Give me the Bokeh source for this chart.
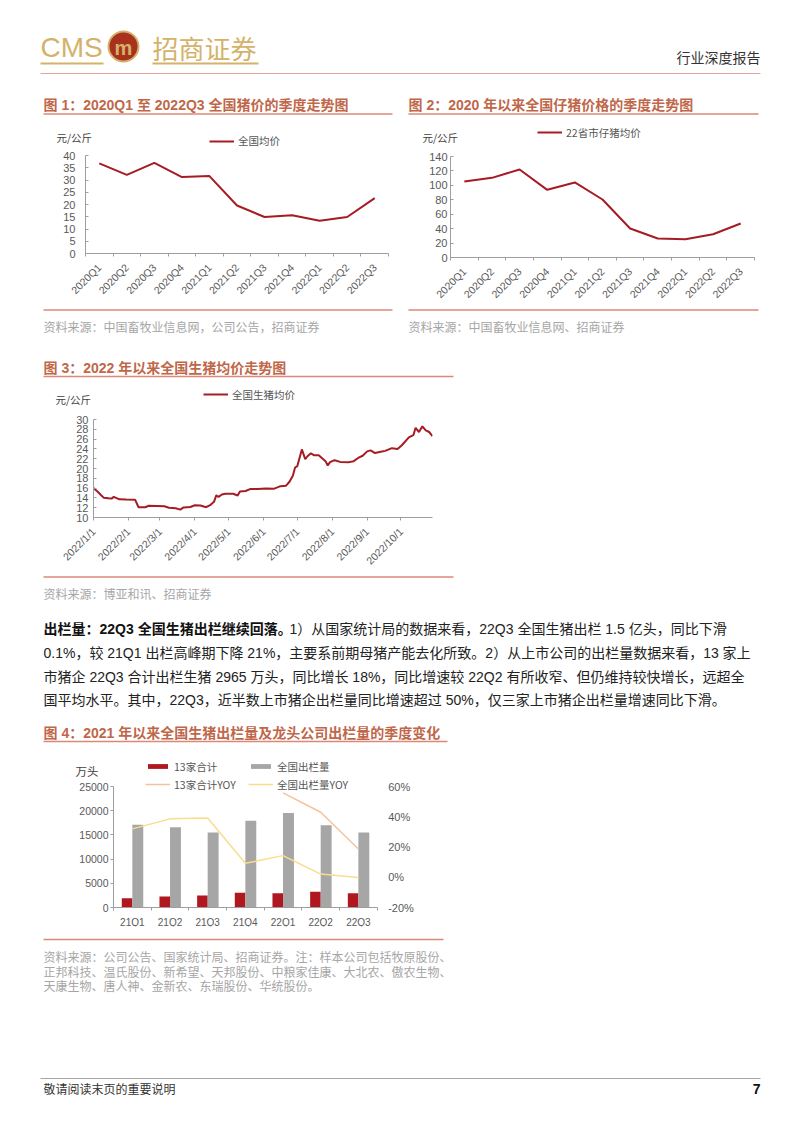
import math
import pandas as pd
from bokeh.plotting import figure
from bokeh.models import (Range1d, LinearAxis, FixedTicker, Legend, LegendItem, Label,
                          PrintfTickFormatter, ColumnDataSource)
from bokeh.transform import dodge
from bokeh.layouts import column, row
from bokeh.embed import file_html
from bokeh.resources import INLINE
from bokeh.core.properties import value

# ---------------- data ----------------
quarters_20_22 = ["2020Q1", "2020Q2", "2020Q3", "2020Q4", "2021Q1", "2021Q2",
                  "2021Q3", "2021Q4", "2022Q1", "2022Q2", "2022Q3"]
hog_price_q = [36.8, 32.1, 37.0, 31.2, 31.6, 19.6, 14.9, 15.6, 13.4, 14.9, 22.6]
piglet_price_q = [105.4, 110.4, 122.0, 93.8, 104.0, 80.4, 40.2, 26.3, 25.4, 32.3, 47.1]

hog_dates = ["2022-01-01", "2022-01-03", "2022-01-05", "2022-01-08", "2022-01-10", "2022-01-14",
             "2022-01-17", "2022-01-19", "2022-01-21", "2022-01-24", "2022-01-30", "2022-02-07",
             "2022-02-10", "2022-02-16", "2022-02-19", "2022-02-26", "2022-03-05", "2022-03-09",
             "2022-03-15", "2022-03-19", "2022-03-22", "2022-03-28", "2022-04-01", "2022-04-06",
             "2022-04-11", "2022-04-15", "2022-04-18", "2022-04-20", "2022-04-22", "2022-04-25",
             "2022-04-28", "2022-05-05", "2022-05-09", "2022-05-11", "2022-05-16", "2022-05-20",
             "2022-05-27", "2022-06-03", "2022-06-10", "2022-06-16", "2022-06-21", "2022-06-24",
             "2022-06-27", "2022-06-29", "2022-07-01", "2022-07-05", "2022-07-08", "2022-07-10",
             "2022-07-13", "2022-07-16", "2022-07-20", "2022-07-23", "2022-07-26", "2022-07-28",
             "2022-07-30", "2022-08-03", "2022-08-08", "2022-08-16", "2022-08-20", "2022-08-24",
             "2022-08-28", "2022-09-01", "2022-09-04", "2022-09-08", "2022-09-13", "2022-09-17",
             "2022-09-23", "2022-09-28", "2022-10-02", "2022-10-08", "2022-10-12", "2022-10-14",
             "2022-10-17", "2022-10-20", "2022-10-23", "2022-10-26", "2022-10-29"]
hog_price_d = [16.0, 15.6, 15.2, 14.5, 14.05, 13.95,
               13.85, 14.2, 14.0, 13.7, 13.65, 13.6,
               12.1, 12.1, 12.4, 12.35, 12.3, 12.0,
               11.9, 11.6, 12.05, 12.15, 12.5, 12.45,
               12.1, 12.6, 13.2, 14.5, 14.2, 14.7,
               14.85, 14.85, 14.5, 15.3, 15.4, 15.8,
               15.8, 15.9, 15.85, 16.4, 16.5, 17.3,
               18.5, 20.2, 20.5, 23.9, 21.9, 22.5,
               23.1, 22.7, 22.7, 22.1, 21.5, 20.6,
               21.3, 21.7, 21.35, 21.3, 21.5, 22.15,
               22.6, 23.5, 23.7, 23.15, 23.4, 23.6,
               24.15, 24.0, 24.8, 26.35, 26.8, 28.3,
               27.45, 28.6, 27.8, 27.45, 26.6]
month_ticks = ["2022-01-01", "2022-02-01", "2022-03-01", "2022-04-01", "2022-05-01",
               "2022-06-01", "2022-07-01", "2022-08-01", "2022-09-01", "2022-10-01"]
month_labels = ["2022/1/1", "2022/2/1", "2022/3/1", "2022/4/1", "2022/5/1",
                "2022/6/1", "2022/7/1", "2022/8/1", "2022/9/1", "2022/10/1"]

quarters_21_22 = ["21Q1", "21Q2", "21Q3", "21Q4", "22Q1", "22Q2", "22Q3"]
top13_output = [1900, 2250, 2500, 3050, 2950, 3250, 2965]
national_output = [17100, 16600, 15500, 17900, 19500, 17000, 15500]
top13_yoy = [float("nan"), float("nan"), float("nan"), float("nan"), 55.8, 43.0, 18.7]
national_yoy = [32.0, 38.6, 39.2, 9.2, 14.3, 2.1, -0.1]

# ---------------- style ----------------
W = 800
CJK = "Noto Sans CJK SC"
MIX = "'Liberation Sans', 'Noto Sans CJK SC'"
LATIN = "Liberation Sans"
RED_LINE = "#A51C24"
TITLE_C = "#C0674A"
RULE_C = "#DC8878"
GOLD = "#D4B26A"
TICK_C = "#595959"
LEG_C = "#555555"
SRC_C = "#A6A6A6"
AXIS_C = "#9E9E9E"
BAR_RED = "#B0171F"
BAR_GRAY = "#A6A6A6"
YOY_ORANGE = "#F6C29A"
YOY_YELLOW = "#F9DC8C"
NAN = float("nan")


def decor(top, h):
    p = figure(width=W, height=h, x_range=Range1d(0, W), y_range=Range1d(top + h, top),
               x_axis_location=None, y_axis_location=None, output_backend="svg",
               toolbar_location=None, min_border=0)
    p.grid.visible = False
    p.outline_line_color = None
    return p


def put_text(p, x, y, s, size, color, font=MIX, bold=False, align="left"):
    p.text(x=[x], y=[y], text=[s], text_font=value(font),
           text_font_size=f"{size}px", text_color=color,
           text_font_style="bold" if bold else "normal",
           text_align=align, text_baseline="middle")


def put_rule(p, x0, x1, y, color, w=1.0):
    p.line(x=[x0, x1], y=[y, y], line_color=color, line_width=w)


def legend_style(**kw):
    base = dict(border_line_color=None, background_fill_alpha=0, padding=0, margin=0,
                glyph_width=25, label_standoff=4, label_text_font=CJK,
                label_text_font_size="10.5px", label_text_color=LEG_C)
    base.update(kw)
    return base


def strip_legend(p, top, h, label, glyph_x, center_y, color):
    """legend of a chart drawn in a page strip (its sample renderer draws nothing)"""
    r = p.line(x=[NAN], y=[NAN], line_color=color, line_width=2)
    lh = 14
    vy = (top + h) - (center_y + lh / 2)
    p.add_layout(Legend(items=[LegendItem(label=label, renderers=[r])],
                        location=(glyph_x, vy),
                        **legend_style(glyph_height=lh, label_height=lh, spacing=0)))


def base_fig(width, height, xr, yr, borders, x_axis_type="linear"):
    l, r, t, b = borders
    p = figure(width=width, height=height, x_range=xr, y_range=yr, x_axis_type=x_axis_type,
               output_backend="svg", toolbar_location=None,
               min_border_left=l, min_border_right=r, min_border_top=t, min_border_bottom=b)
    p.grid.visible = False
    p.outline_line_color = None
    for ax in p.axis:
        ax.axis_line_color = AXIS_C
        ax.major_tick_line_color = AXIS_C
        ax.minor_tick_line_color = None
        ax.major_label_text_color = TICK_C
        ax.major_label_text_font = LATIN
        ax.major_label_text_font_size = "11px"
    return p


def quarter_axis(p, labels, standoff, orient):
    n = len(labels)
    ax = p.xaxis[0]
    ax.ticker = FixedTicker(ticks=list(range(n)), minor_ticks=[i - 0.5 for i in range(n + 1)])
    ax.major_label_overrides = {i: s for i, s in enumerate(labels)}
    ax.major_tick_out = 0
    ax.major_tick_in = 0
    ax.minor_tick_line_color = AXIS_C
    ax.minor_tick_out = 3
    ax.minor_tick_in = 0
    ax.major_label_standoff = standoff
    if orient:
        ax.major_label_orientation = math.pi / 4
        ax.major_label_text_font_size = "10.5px"


# ---------------- strip 1: header + titles 1/2 + legends 1/2 ----------------
T1, H1 = 0, 147
s1 = decor(T1, H1)
put_text(s1, 40, 47, "CMS", 28, GOLD, font="'Liberation Sans Narrow', 'Liberation Sans'")
s1.circle(x=[123], y=[46], radius=15, fill_color="#A8321E", line_color=GOLD, line_width=2)
put_text(s1, 123, 47, "m", 20, GOLD, font=LATIN, bold=True, align="center")
put_text(s1, 152, 47, "招商证券", 26, GOLD, font=CJK)
put_rule(s1, 40, 103, 63, GOLD, 2)
put_rule(s1, 152, 258, 63, GOLD, 2)
put_text(s1, 760, 56, "行业深度报告", 14, "#333333", font=CJK, align="right")
put_rule(s1, 40, 760, 73, "#E2A49C", 1)
put_text(s1, 43, 104, "图 1：2020Q1 至 2022Q3 全国猪价的季度走势图", 14, TITLE_C, bold=True)
put_rule(s1, 43, 392, 113.5, RULE_C, 1.5)
put_text(s1, 408, 104, "图 2：2020 年以来全国仔猪价格的季度走势图", 14, TITLE_C, bold=True)
put_rule(s1, 408, 758, 113.5, RULE_C, 1.5)
put_text(s1, 56, 137, "元/公斤", 10.5, "#404040", font=CJK)
put_text(s1, 422, 137, "元/公斤", 10.5, "#404040", font=CJK)
strip_legend(s1, T1, H1, "全国均价", 209, 141, RED_LINE)
strip_legend(s1, T1, H1, "22省市仔猪均价", 537, 132.5, RED_LINE)

# ---------------- strip 2: charts 1 and 2 ----------------
n1 = len(quarters_20_22)
idx1 = list(range(n1))
H2 = 160

p1 = base_fig(400, H2, Range1d(-0.5, n1 - 0.5), Range1d(0, 40), (85, 12, 8, 54))
p1.line(idx1, hog_price_q, line_color=RED_LINE, line_width=2)
quarter_axis(p1, quarters_20_22, 9, True)
p1.yaxis[0].ticker = FixedTicker(ticks=list(range(0, 41, 5)))
p1.yaxis[0].major_tick_in = 3
p1.yaxis[0].major_tick_out = 0
p1.yaxis[0].major_label_standoff = 10

p2 = base_fig(400, H2, Range1d(-0.5, n1 - 0.5), Range1d(0, 140), (50, 46, 9, 50))
p2.line(idx1, piglet_price_q, line_color=RED_LINE, line_width=2)
quarter_axis(p2, quarters_20_22, 9, True)
p2.yaxis[0].ticker = FixedTicker(ticks=list(range(0, 141, 20)))
p2.yaxis[0].major_tick_in = 3
p2.yaxis[0].major_tick_out = 0
p2.yaxis[0].major_label_standoff = 3

# ---------------- strip 3: sources 1/2 + title 3 + legend 3 ----------------
T3, H3 = 307, 104
s3 = decor(T3, H3)
put_rule(s3, 43, 392, 309.5, RULE_C, 1.5)
put_rule(s3, 408, 758, 309.5, RULE_C, 1.5)
put_text(s3, 43, 326, "资料来源：中国畜牧业信息网，公司公告，招商证券", 12, SRC_C, font=CJK)
put_text(s3, 408, 326, "资料来源：中国畜牧业信息网、招商证券", 12, SRC_C, font=CJK)
put_text(s3, 43, 367, "图 3：2022 年以来全国生猪均价走势图", 14, TITLE_C, bold=True)
put_rule(s3, 43, 453, 376, RULE_C, 1.5)
put_text(s3, 55, 399, "元/公斤", 10.5, "#404040", font=CJK)
strip_legend(s3, T3, H3, "全国生猪均价", 203, 394.5, RED_LINE)

# ---------------- strip 4: chart 3 ----------------
d3 = pd.to_datetime(hog_dates)
p3 = base_fig(W, 163, Range1d(pd.Timestamp("2022-01-01"), pd.Timestamp("2022-10-29")),
              Range1d(10, 30), (93, 368, 8, 55), x_axis_type="datetime")
p3.line(d3, hog_price_d, line_color=RED_LINE, line_width=2)
tick_ms = [int(pd.Timestamp(t).value // 10**6) for t in month_ticks]
ax3 = p3.xaxis[0]
ax3.ticker = FixedTicker(ticks=tick_ms)
ax3.major_label_overrides = {t: s for t, s in zip(tick_ms, month_labels)}
ax3.major_label_orientation = math.pi / 4
ax3.major_tick_out = 3
ax3.major_tick_in = 0
ax3.major_label_standoff = 9
ax3.major_label_text_font_size = "10.5px"
p3.yaxis[0].ticker = FixedTicker(ticks=list(range(10, 31, 2)))
p3.yaxis[0].major_tick_in = 3
p3.yaxis[0].major_tick_out = 0
p3.yaxis[0].major_label_standoff = 5

# ---------------- strip 5: source 3 + paragraph + title 4 ----------------
T5, H5 = 574, 176
s5 = decor(T5, H5)
put_rule(s5, 43, 453, 576.5, RULE_C, 1.5)
put_text(s5, 43, 592.5, "资料来源：博亚和讯、招商证券", 12, SRC_C, font=CJK)
put_text(s5, 43, 628, "出栏量：22Q3 全国生猪出栏继续回落。", 14, "#111111", bold=True)
put_text(s5, 289, 628, "1）从国家统计局的数据来看，22Q3 全国生猪出栏 1.5 亿头，同比下滑", 14, "#222222")
put_text(s5, 43, 652, "0.1%，较 21Q1 出栏高峰期下降 21%，主要系前期母猪产能去化所致。2）从上市公司的出栏量数据来看，13 家上", 14, "#222222")
put_text(s5, 43, 676, "市猪企 22Q3 合计出栏生猪 2965 万头，同比增长 18%，同比增速较 22Q2 有所收窄、但仍维持较快增长，远超全", 14, "#222222")
put_text(s5, 43, 699, "国平均水平。其中，22Q3，近半数上市猪企出栏量同比增速超过 50%，仅三家上市猪企出栏量增速同比下滑。", 14, "#222222")
put_text(s5, 43, 732, "图 4：2021 年以来全国生猪出栏量及龙头公司出栏量的季度变化", 14, TITLE_C, bold=True)
put_rule(s5, 43, 447, 741, RULE_C, 1.5)

# ---------------- strip 6: chart 4 ----------------
T6, H6 = 750, 178
F_L, F_R, F_T, F_B = 60, 420, 752, 926          # frame (page px)
A_L, A_R, A_T, A_B = 113, 376.7, 786, 907       # axis extents (page px)
n4 = len(quarters_21_22)
ux = (A_R - A_L) / n4
xr4 = Range1d(-0.5 - (A_L - F_L) / ux, n4 - 0.5 + (F_R - A_R) / ux)
ky = 25000 / (A_B - A_T)
yr4 = Range1d(-(F_B - A_B) * ky, 25000 + (A_T - F_T) * ky)
kp = 80 / (A_B - A_T)
src4 = ColumnDataSource(dict(idx=list(range(n4)), top13=top13_output, nat=national_output,
                             top13_yoy=top13_yoy, nat_yoy=national_yoy))
p4 = base_fig(W, H6, xr4, yr4, (F_L, W - F_R, F_T - T6, T6 + H6 - F_B))
p4.extra_y_ranges = {"pct": Range1d(-20 - (F_B - A_B) * kp, 60 + (A_T - F_T) * kp)}
rb1 = p4.vbar(x=dodge("idx", -0.14), top="top13", width=0.28, fill_color=BAR_RED,
              line_color=None, source=src4)
rb2 = p4.vbar(x=dodge("idx", 0.145), top="nat", width=0.29, fill_color=BAR_GRAY,
              line_color=None, source=src4)
rl1 = p4.line("idx", "top13_yoy", y_range_name="pct", line_color=YOY_ORANGE, line_width=1.5,
              source=src4)
rl2 = p4.line("idx", "nat_yoy", y_range_name="pct", line_color=YOY_YELLOW, line_width=1.5,
              source=src4)
quarter_axis(p4, quarters_21_22, 6, False)
bx = p4.xaxis[0]
bx.major_label_text_font_size = "10px"
bx.bounds = (-0.5, n4 - 0.5)
bx.fixed_location = 0
ly = p4.yaxis[0]
ly.ticker = FixedTicker(ticks=list(range(0, 25001, 5000)))
ly.bounds = (0, 25000)
ly.fixed_location = -0.5
ly.major_tick_in = 0
ly.major_tick_out = 3
ly.major_label_standoff = 2
ly.major_label_text_font_size = "10.5px"
ax_r = LinearAxis(y_range_name="pct", ticker=FixedTicker(ticks=[-20, 0, 20, 40, 60]),
                  formatter=PrintfTickFormatter(format="%d%%"))
ax_r.bounds = (-20, 60)
ax_r.fixed_location = n4 - 0.5
ax_r.axis_line_color = None
ax_r.major_tick_line_color = None
ax_r.minor_tick_line_color = None
ax_r.major_tick_out = 0
ax_r.major_tick_in = 0
ax_r.major_label_standoff = 11
ax_r.major_label_text_color = TICK_C
ax_r.major_label_text_font = LATIN
ax_r.major_label_text_font_size = "11px"
p4.add_layout(ax_r, "right")
p4.add_layout(Label(x=75 - F_L, y=F_B - 770, x_units="screen", y_units="screen", text="万头",
                    text_font=CJK, text_font_size="11.5px", text_color="#404040",
                    text_baseline="middle"))
leg_h = 33
leg_top = 758.5
p4.add_layout(Legend(items=[LegendItem(label="13家合计", renderers=[rb1]),
                            LegendItem(label="13家合计YOY", renderers=[rl1])],
                     location=(145 - F_L, F_B - leg_top - leg_h),
                     **legend_style(glyph_height=6, label_height=15, spacing=3)))
p4.add_layout(Legend(items=[LegendItem(label="全国出栏量", renderers=[rb2]),
                            LegendItem(label="全国出栏量YOY", renderers=[rl2])],
                     location=(248 - F_L, F_B - leg_top - leg_h),
                     **legend_style(glyph_height=6, label_height=15, spacing=3)))

# ---------------- strip 7: source 4 + footer ----------------
T7, H7 = 928, 202
s7 = decor(T7, H7)
put_rule(s7, 43, 443, 939, RULE_C, 1.5)
put_text(s7, 43, 956, "资料来源：公司公告、国家统计局、招商证券。注：样本公司包括牧原股份、", 12, SRC_C, font=CJK)
put_text(s7, 43, 970.5, "正邦科技、温氏股份、新希望、天邦股份、中粮家佳康、大北农、傲农生物、", 12, SRC_C, font=CJK)
put_text(s7, 43, 985, "天康生物、唐人神、金新农、东瑞股份、华统股份。", 12, SRC_C, font=CJK)
put_rule(s7, 40, 760, 1078, "#A6A6A6", 1)
put_text(s7, 43, 1088, "敬请阅读末页的重要说明", 12, "#333333", font=CJK)
put_text(s7, 760, 1088, "7", 14, "#111111", font=LATIN, bold=True, align="right")

page = column(row(s1), row(column(p1), column(p2)), row(s3), row(p3), row(s5), row(p4), row(s7))
open("out.html", "w").write(file_html(page, INLINE))
